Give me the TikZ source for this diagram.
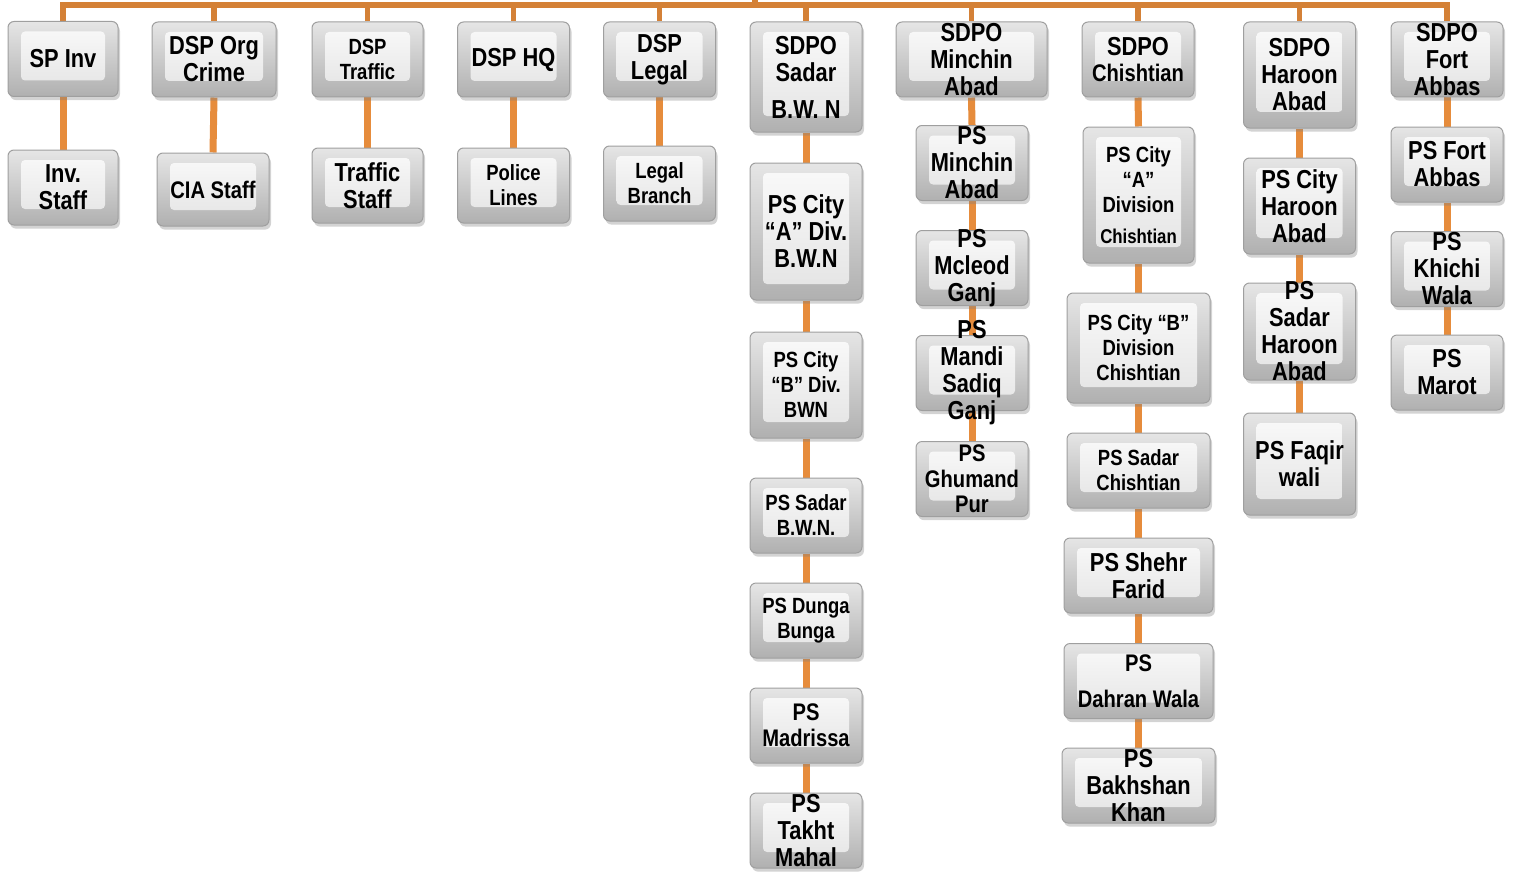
\documentclass[tikz,border=0pt]{standalone}
\usepackage{fontspec}
\setmainfont{Liberation Sans}[FakeStretch=0.84]
\usetikzlibrary{shadows, backgrounds}
\definecolor{linkorange}{RGB}{230,140,60}

\begin{document}
\begin{tikzpicture}[x=0.5pt, y=-0.5pt,
    link/.style={draw=linkorange, line width=3.5pt},
    buslink/.style={draw=linkorange!92!black, line width=2.6pt},
    orgbox/.style={draw=gray!75, line width=0.5pt, rounded corners=3pt,
        top color=gray!20, bottom color=gray!62,
        minimum width=56pt, minimum height=37.5pt, inner sep=0pt,
        drop shadow={shadow xshift=1pt, shadow yshift=-1.8pt, opacity=0.35},
        path picture={\shade[top color=gray!4, bottom color=gray!22, rounded corners=2pt]
            ([shift={(6.5pt,-5pt)}]path picture bounding box.north west) rectangle
            ([shift={(-6.5pt,8pt)}]path picture bounding box.south east);}},
    big/.style={font=\bfseries\fontsize{13}{13.5}\selectfont, align=center},
    mid/.style={font=\bfseries\fontsize{12}{12.8}\selectfont, align=center},
    small/.style={font=\bfseries\fontsize{11}{12.5}\selectfont, align=center}]
    \useasboundingbox (0,0) rectangle (1513,872);

    % first row
    \node[orgbox, minimum width=55pt, label={[big]center:SP Inv}] (spinv) at (63,59) {};
    \node[orgbox, minimum width=62pt, label={[big]center:DSP Org\\Crime}] (dsporg) at (214,59.5) {};
    \node[orgbox, minimum width=55.5pt, label={[small]center:DSP\\Traffic}] (dsptraffic) at (367.5,59.5) {};
    \node[orgbox, label={[big]center:DSP HQ}] (dsphq) at (513.5,59.5) {};
    \node[orgbox, label={[big]center:DSP\\Legal}] (dsplegal) at (659.5,59.5) {};
    \node[orgbox, minimum height=55pt, label={[big]center:SDPO\\Sadar\\[5pt]B.W. N}] (sdposadar) at (806,77) {};
    \node[orgbox, minimum width=75.5pt, label={[big]center:SDPO\\Minchin\\Abad}] (sdpominchin) at (971.5,59.5) {};
    \node[orgbox, label={[mid]center:{\fontsize{13}{13.5}\selectfont SDPO}\\Chishtian}] (sdpochishtian) at (1138,59.5) {};
    \node[orgbox, minimum height=53pt, label={[big]center:SDPO\\Haroon\\Abad}] (sdpoharoon) at (1299.5,75) {};
    \node[orgbox, label={[big]center:SDPO\\Fort\\Abbas}] (sdpofort) at (1447,59.5) {};

    % staff and branches
    \node[orgbox, minimum width=55pt, label={[big]center:Inv.\\Staff}] (invstaff) at (63,187.5) {};
    \node[orgbox, minimum height=36.5pt, label={[mid]center:CIA Staff}] (ciastaff) at (213,189.5) {};
    \node[orgbox, minimum width=55.5pt, label={[big]center:Traffic\\Staff}] (trafficstaff) at (367.5,185.5) {};
    \node[orgbox, label={[small]center:Police\\Lines}] (policelines) at (513.5,185.5) {};
    \node[orgbox, label={[small]center:Legal\\Branch}] (legalbranch) at (659.5,183.5) {};

    % Sadar B.W.N
    \node[orgbox, minimum height=68.5pt, label={[big]center:PS City\\“A” Div.\\B.W.N}] (pscitya) at (806,231.5) {};
    \node[orgbox, minimum height=53pt, label={[small]center:PS City\\“B” Div.\\BWN}] (pscityb) at (806,385) {};
    \node[orgbox, label={[small]center:PS Sadar\\B.W.N.}] (pssadarbwn) at (806,515.5) {};
    \node[orgbox, label={[small]center:PS Dunga\\Bunga}] (psdunga) at (806,620.5) {};
    \node[orgbox, label={[mid]center:PS\\Madrissa}] (psmadrissa) at (806,725.5) {};
    \node[orgbox, label={[big]center:PS\\Takht\\Mahal}] (pstakht) at (806,830.5) {};

    % Minchin Abad
    \node[orgbox, label={[big]center:PS\\Minchin\\Abad}] (psminchin) at (972,163) {};
    \node[orgbox, label={[big]center:PS\\Mcleod\\Ganj}] (psmcleod) at (972,268) {};
    \node[orgbox, label={[big]center:PS\\Mandi\\Sadiq\\Ganj}] (psmandi) at (972,373) {};
    \node[orgbox, label={[mid]center:PS\\Ghumand\\Pur}] (psghumand) at (972,479) {};

    % Chishtian
    \node[orgbox, minimum width=55.5pt, minimum height=68pt,
        label={[small]center:PS City\\“A”\\Division\\[3pt]{\fontsize{10}{12}\selectfont Chishtian}}] (pscityachish) at (1138.5,195) {};
    \node[orgbox, minimum width=71.5pt, minimum height=55pt, label={[small]center:PS City “B”\\Division\\Chishtian}] (pscitybchish) at (1138.5,348) {};
    \node[orgbox, minimum width=71.5pt, label={[small]center:PS Sadar\\Chishtian}] (pssadarchish) at (1138.5,470.5) {};
    \node[orgbox, minimum width=74.5pt, label={[big]center:PS Shehr\\Farid}] (psshehr) at (1138.5,575.5) {};
    \node[orgbox, minimum width=74.5pt, label={[mid]center:PS\\[5pt]Dahran Wala}] (psdahran) at (1138.5,681) {};
    \node[orgbox, minimum width=76.5pt, label={[big]center:PS\\Bakhshan\\Khan}] (psbakhshan) at (1138.5,785.5) {};

    % Haroon Abad
    \node[orgbox, minimum height=48pt, label={[big]center:PS City\\Haroon\\Abad}] (pscityharoon) at (1299.5,206) {};
    \node[orgbox, minimum height=48.5pt, label={[big]center:PS\\Sadar\\Haroon\\Abad}] (pssadarharoon) at (1299.5,331.5) {};
    \node[orgbox, minimum height=51pt, label={[big]center:PS Faqir\\wali}] (psfaqir) at (1299.5,464) {};

    % Fort Abbas
    \node[orgbox, label={[big]center:PS Fort\\Abbas}] (psfort) at (1447,164.5) {};
    \node[orgbox, label={[big]center:PS\\Khichi\\Wala}] (pskhichi) at (1447,269) {};
    \node[orgbox, label={[big]center:PS\\Marot}] (psmarot) at (1447,372.5) {};

    % connectors
    \begin{scope}[on background layer]
    \coordinate (root) at (755,0);
    \coordinate (bus) at (755,5);
    \draw[buslink] (root) -- (bus);
    \foreach \n in {spinv,dsporg,dsptraffic,dsphq,dsplegal,sdposadar,sdpominchin,sdpochishtian,sdpoharoon,sdpofort}
        \draw[buslink] (bus) -| (\n.north);

    \foreach \a/\b in {spinv/invstaff, dsporg/ciastaff, dsptraffic/trafficstaff, dsphq/policelines, dsplegal/legalbranch,
        sdposadar/pscitya, pscitya/pscityb, pscityb/pssadarbwn, pssadarbwn/psdunga, psdunga/psmadrissa, psmadrissa/pstakht,
        sdpominchin/psminchin, psminchin/psmcleod, psmcleod/psmandi, psmandi/psghumand,
        sdpochishtian/pscityachish, pscityachish/pscitybchish, pscitybchish/pssadarchish, pssadarchish/psshehr, psshehr/psdahran, psdahran/psbakhshan,
        sdpoharoon/pscityharoon, pscityharoon/pssadarharoon, pssadarharoon/psfaqir,
        sdpofort/psfort, psfort/pskhichi, pskhichi/psmarot}
        \draw[link] (\a.south) -- (\b.north);
    \end{scope}
\end{tikzpicture}
\end{document}
